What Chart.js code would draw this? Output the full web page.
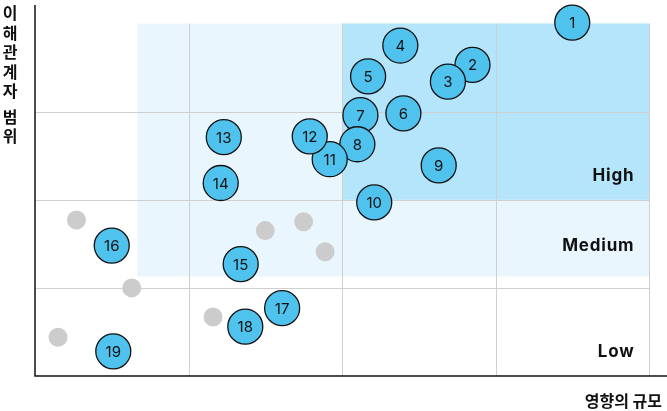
<!DOCTYPE html>
<html lang="ko">
<head>
<meta charset="utf-8">
<title>이해관계자 매트릭스</title>
<script src="https://cdn.jsdelivr.net/npm/chart.js@4/dist/chart.umd.min.js"></script>
<style>
  html, body { margin: 0; padding: 0; background: #fff; }
  #wrap { position: relative; width: 667px; height: 411px; }
</style>
</head>
<body>
<div id="wrap"><canvas id="matrix-chart"></canvas></div>
<script>
// stakeholders (numbered bubbles)
const stakeholderIds = [1, 2, 3, 4, 5, 6, 7, 8, 9, 10, 11, 12, 13, 14, 15, 16, 17, 18, 19];
const impactScale = [3.50, 2.85, 2.69, 2.38, 2.17, 2.40, 2.12, 2.10, 2.63, 2.21, 1.92, 1.79, 1.23, 1.21, 1.34, 0.50, 1.61, 1.37, 0.51];
const stakeholderScope = [4.01, 3.53, 3.34, 3.75, 3.40, 2.98, 2.96, 2.63, 2.39, 1.97, 2.46, 2.72, 2.71, 2.19, 1.27, 1.48, 0.77, 0.56, 0.28];

// unnamed background points (grey)
const otherImpact = [0.27, 0.63, 0.15, 1.16, 1.50, 1.75, 1.89];
const otherScope = [1.77, 1.00, 0.44, 0.67, 1.65, 1.75, 1.41];

// priority zones
const zoneNames = ["High", "Medium", "Low"];
const axisTitleX = "영향의 규모";
const axisTitleY = "이해관계자 범위";

const FONT = "Inter, 'Noto Sans CJK KR', sans-serif";
const KFONT = "'Noto Sans CJK KR', Inter, sans-serif";

// shaded zones, drawn through the scales
const zonePlugin = {
  id: "zones",
  beforeDatasetsDraw(chart) {
    const { ctx, scales: { x, y } } = chart;
    ctx.save();
    // medium zone (light)
    ctx.fillStyle = "#eaf6fd";
    ctx.fillRect(x.getPixelForValue(0.667), y.getPixelForValue(4),
      x.getPixelForValue(4) - x.getPixelForValue(0.667), y.getPixelForValue(1.13) - y.getPixelForValue(4));
    // high zone (darker)
    ctx.fillStyle = "#b4e5fb";
    ctx.fillRect(x.getPixelForValue(2), y.getPixelForValue(4),
      x.getPixelForValue(4) - x.getPixelForValue(2), y.getPixelForValue(2) - y.getPixelForValue(4));

    // grid lines
    ctx.strokeStyle = "#cfcfcf";
    ctx.lineWidth = 1;
    ctx.beginPath();
    [1, 2, 3, 4].forEach((v) => {
      const px = Math.round(x.getPixelForValue(v)) + 0.5;
      ctx.moveTo(px, y.getPixelForValue(4));
      ctx.lineTo(px, y.getPixelForValue(0));
    });
    [1, 2, 3].forEach((v) => {
      const py = Math.round(y.getPixelForValue(v)) + 0.5;
      ctx.moveTo(x.getPixelForValue(0), py);
      ctx.lineTo(x.getPixelForValue(4), py);
    });
    ctx.stroke();

    // zone names
    ctx.fillStyle = "#111";
    ctx.font = "bold 17px " + FONT;
    ctx.letterSpacing = "0.8px";
    ctx.textAlign = "right";
    ctx.textBaseline = "middle";
    const ys = [2.27, 1.48, 0.27];
    zoneNames.forEach((name, i) => {
      ctx.fillText(name, x.getPixelForValue(3.905), y.getPixelForValue(ys[i]));
    });
    ctx.letterSpacing = "0px";

    // axis lines
    ctx.strokeStyle = "#111";
    ctx.lineWidth = 1.5;
    ctx.beginPath();
    const x0 = x.getPixelForValue(0);
    const y0 = y.getPixelForValue(0);
    ctx.moveTo(x0, chart.chartArea.top);
    ctx.lineTo(x0, y0);
    ctx.lineTo(chart.width, y0);
    ctx.stroke();
    ctx.restore();
  },
  afterDatasetsDraw(chart) {
    const { ctx } = chart;
    ctx.save();
    // numbers inside bubbles
    const meta = chart.getDatasetMeta(1);
    ctx.fillStyle = "#111";
    ctx.font = "15px " + FONT;
    ctx.textAlign = "center";
    ctx.textBaseline = "middle";
    meta.data.forEach((pt, i) => {
      ctx.fillText(String(stakeholderIds[i]), pt.x, pt.y + 1);
    });

    // y axis title, stacked characters
    ctx.font = "bold 16px " + KFONT;
    let cy = 13;
    for (const ch of axisTitleY) {
      if (ch === " ") { cy += 6; continue; }
      ctx.fillText(ch, 10, cy);
      cy += 19.5;
    }

    // x axis title
    ctx.textAlign = "right";
    ctx.fillText(axisTitleX, 662, 401);
    ctx.restore();
  }
};

const ctx = document.getElementById("matrix-chart").getContext("2d");
new Chart(ctx, {
  type: "scatter",
  data: {
    datasets: [
      {
        label: "기타",
        data: otherImpact.map((v, i) => ({ x: v, y: otherScope[i] })),
        backgroundColor: "#cccccc",
        borderWidth: 0,
        pointRadius: 9.5,
        pointHoverRadius: 9.5,
      },
      {
        label: "이해관계자",
        data: impactScale.map((v, i) => ({ x: v, y: stakeholderScope[i] })),
        backgroundColor: "#4fc3ee",
        borderColor: "#111",
        borderWidth: 1.3,
        pointRadius: 17.5,
        pointHoverRadius: 17.5,
      },
    ],
  },
  options: {
    responsive: true,
    maintainAspectRatio: false,
    animation: false,
    clip: false,
    layout: { autoPadding: false, padding: { left: 35, right: 18, top: 5, bottom: 35 } },
    plugins: { legend: { display: false }, tooltip: { enabled: false } },
    scales: {
      x: { display: false, min: 0, max: 4 },
      y: { display: false, min: 0, max: 4.21 },
    },
  },
  plugins: [zonePlugin],
});
</script>
</body>
</html>
